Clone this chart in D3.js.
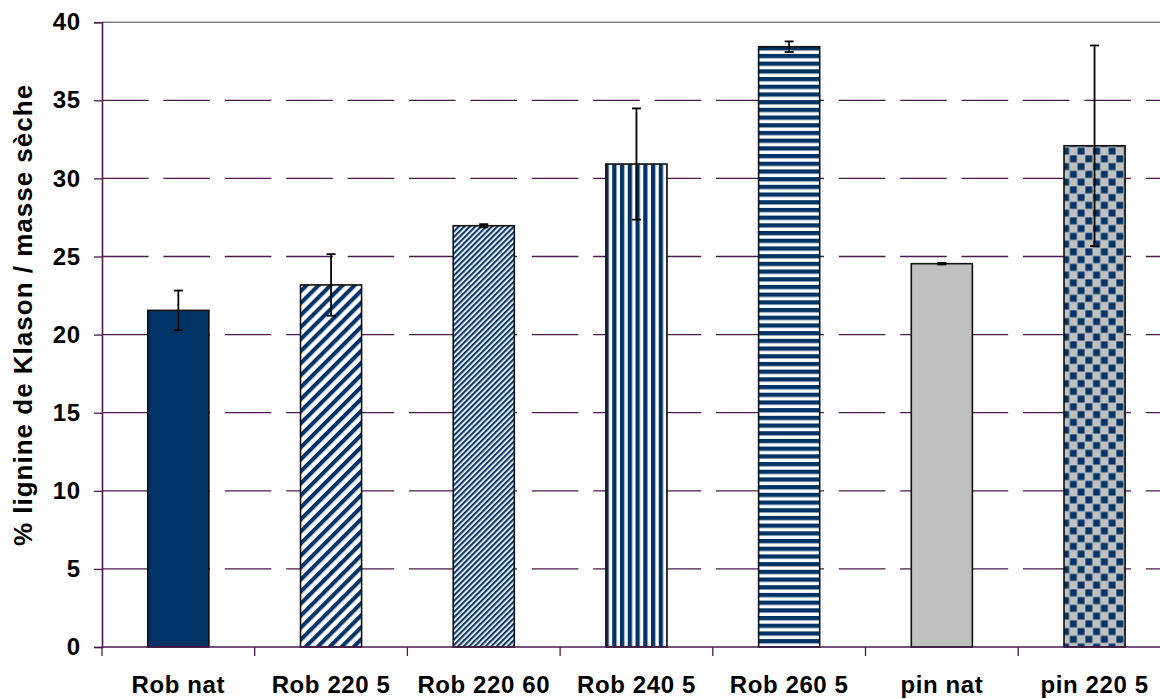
<!DOCTYPE html>
<html>
<head>
<meta charset="utf-8">
<script src="https://cdn.jsdelivr.net/npm/d3@7"></script>
<style>
  html, body { margin: 0; padding: 0; background: #fff; overflow: hidden; }
  svg { display: block; font-family: "Liberation Sans", Arial, sans-serif; }
</style>
</head>
<body>
<svg id="chart" width="1160" height="699"></svg>
<script>
// ---- data ----
const categories = ["Rob nat", "Rob 220 5", "Rob 220 60", "Rob 240 5", "Rob 260 5", "pin nat", "pin 220 5"];
const values = [21.55, 23.18, 26.97, 30.92, 38.43, 24.54, 32.09];
const errors = [1.27, 1.97, 0.10, 3.56, 0.34, 0.05, 6.42];
const fills = ["solid-navy", "wide-diag", "narrow-diag", "vert", "horiz", "solid-gray", "checker"];
const yTicks = [0, 5, 10, 15, 20, 25, 30, 35, 40];
const yLabel = "% lignine de Klason / masse sèche";

const NAVY = "#003366";
const GRID = "#4a1a4e";

const svg = d3.select("#chart");
const plotLeft = 102, plotTop = 22.2, plotBottom = 647;
const stepW = 152.7;

const x = d3.scaleBand().domain(categories)
  .range([plotLeft, plotLeft + stepW * categories.length])
  .paddingInner(0.6).paddingOuter(0.3);
const y = d3.scaleLinear().domain([0, 40]).range([plotBottom, plotTop]);

// ---- patterns ----
const defs = svg.append("defs");
function stripes(id, period, navyW, angle) {
  const p = defs.append("pattern").attr("id", id)
    .attr("patternUnits", "userSpaceOnUse")
    .attr("width", period).attr("height", period)
    .attr("patternTransform", `rotate(${angle})`);
  p.append("rect").attr("width", period).attr("height", period).attr("fill", "#ffffff");
  p.append("rect").attr("x", -0.6).attr("width", navyW + 1.2).attr("height", period).attr("fill", "#8fa6bf");
  p.append("rect").attr("x", 0).attr("width", navyW).attr("height", period).attr("fill", NAVY);
}
stripes("wide-diag", 8.5, 3.8, 45);
stripes("narrow-diag", 3.9, 1.8, 45);
stripes("vert", 7.75, 4.0, 0);
stripes("horiz", 7.7, 4.0, 90);
{
  const s = 15.5;
  const p = defs.append("pattern").attr("id", "checker")
    .attr("patternUnits", "userSpaceOnUse").attr("width", s).attr("height", s);
  p.append("rect").attr("width", s).attr("height", s).attr("fill", "#c0c0c0");
  p.append("rect").attr("x", 0.4).attr("y", 0.4).attr("width", 6.9).attr("height", 6.9).attr("fill", NAVY);
  p.append("rect").attr("x", 8.15).attr("y", 8.15).attr("width", 6.9).attr("height", 6.9).attr("fill", NAVY);
}
function fillOf(f) {
  if (f === "solid-navy") return NAVY;
  if (f === "solid-gray") return "#c0c0c0";
  return `url(#${f})`;
}

// ---- gridlines ----
const rightEdge = 1160;
svg.append("g").selectAll("line").data(yTicks.filter(t => t > 0 && t < 40)).join("line")
  .attr("x1", plotLeft).attr("x2", rightEdge)
  .attr("y1", d => y(d)).attr("y2", d => y(d))
  .attr("stroke", GRID).attr("stroke-width", 1.3)
  .attr("stroke-dasharray", "46.6,14.8");
// top border (plot area)
svg.append("line").attr("x1", plotLeft).attr("x2", rightEdge)
  .attr("y1", y(40)).attr("y2", y(40))
  .attr("stroke", "#808080").attr("stroke-width", 1.6);

// ---- bars ----
const data = categories.map((c, i) => ({ c, v: values[i], e: errors[i], f: fills[i] }));
svg.append("g").selectAll("rect").data(data).join("rect")
  .attr("x", d => x(d.c)).attr("width", x.bandwidth())
  .attr("y", d => y(d.v)).attr("height", d => y(0) - y(d.v))
  .attr("fill", d => fillOf(d.f))
  .attr("stroke", "#111").attr("stroke-width", 1.6);

// ---- error bars ----
const eg = svg.append("g").attr("stroke", "#000").attr("stroke-width", 1.8);
data.forEach(d => {
  const cx = x(d.c) + x.bandwidth() / 2;
  eg.append("line").attr("x1", cx).attr("x2", cx).attr("y1", y(d.v - d.e)).attr("y2", y(d.v + d.e));
  eg.append("line").attr("x1", cx - 4.5).attr("x2", cx + 4.5).attr("y1", y(d.v + d.e)).attr("y2", y(d.v + d.e));
  eg.append("line").attr("x1", cx - 4.5).attr("x2", cx + 4.5).attr("y1", y(d.v - d.e)).attr("y2", y(d.v - d.e));
});

// ---- axes ----
const yAxis = d3.axisLeft(y).tickValues(yTicks).tickSize(8).tickPadding(13).tickFormat(d3.format("d"));
const gy = svg.append("g").attr("transform", `translate(${plotLeft},0)`).call(yAxis);
gy.select(".domain").attr("stroke", GRID).attr("stroke-width", 1.6);
gy.selectAll(".tick line").attr("stroke", GRID).attr("stroke-width", 1.3);
gy.selectAll(".tick text").attr("font-size", 24).attr("font-weight", "bold")
  .attr("fill", "#000").attr("font-family", "'Liberation Sans', Arial, sans-serif")
  .attr("letter-spacing", "0.8px");

// x axis: line at 0 with ticks at category boundaries
const boundaries = d3.range(categories.length + 1).map(i => plotLeft + i * x.step());
svg.append("line").attr("x1", plotLeft).attr("x2", rightEdge)
  .attr("y1", y(0)).attr("y2", y(0)).attr("stroke", GRID).attr("stroke-width", 1.6);
svg.append("g").selectAll("line").data(boundaries).join("line")
  .attr("x1", d => d).attr("x2", d => d)
  .attr("y1", y(0)).attr("y2", y(0) + 9)
  .attr("stroke", GRID).attr("stroke-width", 1.3);
svg.append("g").selectAll("text").data(categories).join("text")
  .attr("x", d => x(d) + x.bandwidth() / 2)
  .attr("y", 693)
  .attr("text-anchor", "middle")
  .attr("font-size", 24).attr("font-weight", "bold").attr("letter-spacing", "0.6px")
  .text(d => d);

// y label
svg.append("text")
  .attr("transform", `translate(32,315) rotate(-90)`)
  .attr("text-anchor", "middle")
  .attr("font-size", 26).attr("font-weight", "bold").attr("letter-spacing", "1px")
  .text(yLabel);
</script>
</body>
</html>
